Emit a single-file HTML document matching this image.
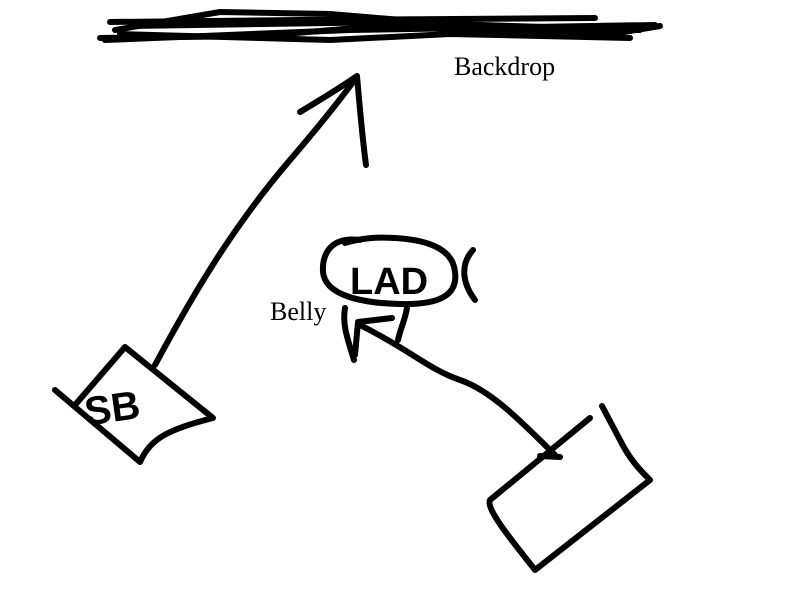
<!DOCTYPE html>
<html><head><meta charset="utf-8"><style>
html,body{margin:0;padding:0;background:#fff;}
svg{display:block}
</style></head><body>
<svg width="800" height="606" viewBox="0 0 800 606" xmlns="http://www.w3.org/2000/svg">
<g fill="none" stroke="#000" stroke-width="6" stroke-linecap="round" stroke-linejoin="round">
<path d="M110 22 L300 20 L595 18"/>
<path d="M105 40 L350 30 L655 25"/>
<path d="M115 30 L220 12 L330 14 L450 24 L640 30"/>
<path d="M100 38 L260 36 L380 26 L600 36 L660 26"/>
<path d="M130 26 L400 22 L520 30 L620 34"/>
<path d="M120 34 L330 40 L450 34 L630 38"/>
<path d="M155 365 C190 300 230 230 290 160 C320 125 340 100 356 78"/>
<path d="M300 112 C320 100 340 88 357 76 C360 110 362 135 366 165"/>
<path d="M55 390 L140 462 C150 440 165 430 213 418 L125 347 L75 405"/>
<path d="M360 240 C330 236 322 255 323 272 C325 295 360 303 400 304 C440 305 458 295 455 272 C453 250 430 240 395 238 C375 237 362 238 345 243"/>
<path d="M473 250 C462 262 460 280 475 300"/>
<path d="M345 308 C342 325 348 340 354 360"/>
<path d="M407 308 C405 320 400 330 398 340"/>
<path d="M555 455 C520 420 490 390 460 380 C430 370 410 350 360 325"/>
<path d="M392 318 L358 322 L355 355"/>
<path d="M560 457 L540 456"/>
<path d="M590 418 L490 500 C485 510 520 550 535 570 L650 480 C640 470 630 460 620 440 L602 406"/>
</g>
<text x="454" y="75" font-family="Liberation Serif, serif" font-size="26">Backdrop</text>
<text x="270" y="320" font-family="Liberation Serif, serif" font-size="26">Belly</text>
<text x="84" y="422" font-family="Liberation Sans, sans-serif" font-size="40" font-weight="bold" transform="rotate(-8 110 405)">SB</text>
<text x="350" y="294" font-family="Liberation Sans, sans-serif" font-size="38" font-weight="bold">LAD</text>
</svg>
</body></html>
